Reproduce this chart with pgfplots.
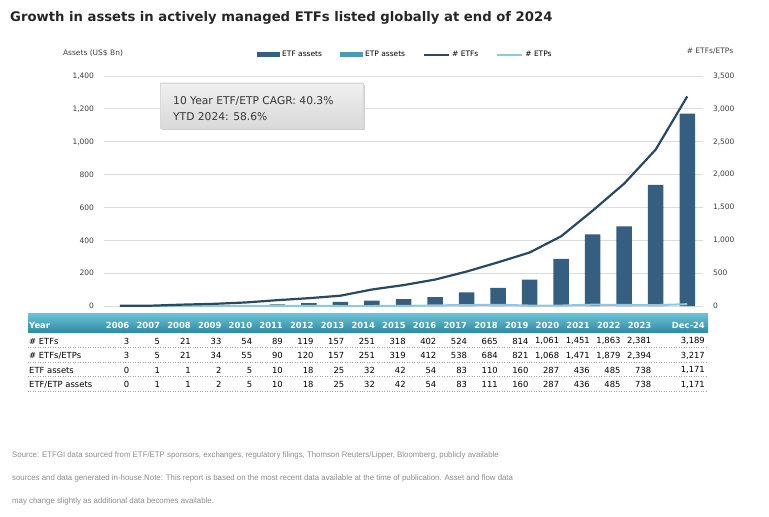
\documentclass[border=0pt]{standalone}
\usepackage{graphicx}
\usepackage{pgfplots}
\pgfplotsset{compat=1.18}
\usepackage{pgfplotstable}
\usepackage{fontspec}
\setmainfont{DejaVu Sans}
\newfontfamily\footfont{Liberation Sans}

\definecolor{etfbar}{HTML}{365E80}
\definecolor{etpbar}{HTML}{4A9BB5}
\definecolor{etfline}{HTML}{2B4861}
\definecolor{etpline}{HTML}{8DC9DC}
\definecolor{gridgray}{HTML}{DCDCDC}
\definecolor{hdrtop}{HTML}{6EC3D6}
\definecolor{hdrbot}{HTML}{2F8CA6}
\definecolor{ticktext}{HTML}{404040}

\pgfkeys{/pgf/number format/.cd,fixed,1000 sep={,},assume math mode=true}

% year, # ETFs, # ETFs/ETPs, ETF assets, ETF/ETP assets (US$ Bn); xr = right edge of table column
\pgfplotstableread{
x  year   etfs etfsetps etfa etfetpa xr
0  2006   3    3        0    0       129.5
1  2007   5    5        1    1       160.2
2  2008   21   21       1    1       190.9
3  2009   33   34       2    2       221.6
4  2010   54   55       5    5       252.3
5  2011   89   90       10   10      283
6  2012   119  120      18   18      313.7
7  2013   157  157      25   25      344.4
8  2014   251  251      32   32      375.1
9  2015   318  319      42   42      405.8
10 2016   402  412      54   54      436.5
11 2017   524  538      83   83      467.2
12 2018   665  684      110  111     497.9
13 2019   814  821      160  160     528.6
14 2020   1061 1068     287  287     559.3
15 2021   1451 1471     436  436     590
16 2022   1863 1879     485  485     620.7
17 2023   2381 2394     738  738     651.4
18 Dec-24 3189 3217     1171 1171    705
}\datatable

\newcommand\smallfont{\fontsize{7.5bp}{9bp}\selectfont}
\newcommand\tabfont{\fontsize{8.4bp}{10bp}\selectfont}
\newcommand\note[1]{\scalebox{0.98}[1]{#1}}

\begin{document}
\begin{tikzpicture}
\begin{scope}[x=1bp,y=1bp]
\path[use as bounding box] (0,0) rectangle (769,-517);
\end{scope}

\begin{axis}[
    at={(104bp,-306bp)}, anchor=south west,
    scale only axis, width=599bp, height=230bp,
    xmin=-0.5, xmax=18.5, ymin=0, ymax=1400,
    ybar stacked, bar width=15.5bp,
    axis line style={draw=none},
    xtick=\empty,
    ytick={0,200,...,1400},
    ymajorgrids, grid style={gridgray, line width=0.8bp},
    major tick length=0pt,
    scaled y ticks=false,
    yticklabel style={font=\smallfont, color=ticktext, xshift=-6.5bp},
    legend columns=4,
    legend style={draw=none, fill=none, inner sep=0pt,
        at={(0.2554,1.092)}, anchor=west, font=\smallfont,
        /tikz/every even column/.append style={column sep=16bp}},
]
\addplot[fill=etfbar, draw=none,
    legend image code/.code={\fill[etfbar] (0bp,-2.5bp) rectangle (23bp,2.5bp);}]
    table[x=x, y=etfa] {\datatable};
\addlegendentry{ETF assets}
\addplot[fill=etpbar, draw=none,
    legend image code/.code={\fill[etpbar] (0bp,-2.5bp) rectangle (23bp,2.5bp);}]
    table[x=x, y expr=\thisrow{etfetpa}-\thisrow{etfa}] {\datatable};
\addlegendentry{ETP assets}
\addlegendimage{legend image code/.code={\draw[etfline, line width=2bp] (0bp,0bp) -- (25bp,0bp);}}
\addlegendentry{\# ETFs}
\addlegendimage{legend image code/.code={\draw[etpline, line width=2bp] (0bp,0bp) -- (25bp,0bp);}}
\addlegendentry{\# ETPs}
\end{axis}

\begin{axis}[
    at={(104bp,-306bp)}, anchor=south west,
    scale only axis, width=599bp, height=230bp,
    xmin=-0.5, xmax=18.5, ymin=0, ymax=3500,
    axis x line=none,
    axis y line*=right,
    axis line style={draw=none},
    xtick=\empty,
    ytick={0,500,...,3500},
    major tick length=0pt,
    scaled y ticks=false,
    yticklabel style={font=\smallfont, color=ticktext, anchor=west, xshift=6.5bp},
]
\addplot[etpline, line width=2bp, no marks]
    table[x=x, y expr=\thisrow{etfsetps}-\thisrow{etfs}] {\datatable};
\addplot[etfline, line width=2.2bp, no marks]
    table[x=x, y=etfs] {\datatable};
\end{axis}

\begin{scope}[x=1bp,y=1bp]
% title
\node[anchor=west, inner sep=0, font=\fontsize{13.2bp}{15bp}\selectfont\bfseries, text=black!85]
    at (10,-17.5) {Growth in assets in actively managed ETFs listed globally at end of 2024};
% axis titles
\node[inner sep=0, font=\smallfont, text=ticktext] at (93,-53) {Assets (US\$ Bn)};
\node[inner sep=0, font=\smallfont, text=ticktext] at (710,-51) {\# ETFs/ETPs};
% annotation box
\fill[black!18] (162,-85) rectangle (365,-130);
\shade[top color=white!94!black, bottom color=white!85!black, draw=black!15] (160,-83) rectangle (363,-128);
\node[anchor=west, inner sep=0, font=\fontsize{10.7bp}{12bp}\selectfont, text=black!78] at (173,-101) {10 Year ETF/ETP CAGR: 40.3\%};
\node[anchor=west, inner sep=0, font=\fontsize{10.7bp}{12bp}\selectfont, text=black!78] at (173,-117) {YTD 2024: 58.6\%};
% data table
\shade[top color=hdrtop, bottom color=hdrbot] (28,-313) rectangle (708,-332);
\node[anchor=west, inner sep=0, font=\tabfont\bfseries, text=white] at (29,-325.5) {Year};
\node[anchor=west, inner sep=0, font=\tabfont] at (29,-341) {\# ETFs};
\node[anchor=west, inner sep=0, font=\tabfont] at (29,-355.5) {\# ETFs/ETPs};
\node[anchor=west, inner sep=0, font=\tabfont] at (29,-370) {ETF assets};
\node[anchor=west, inner sep=0, font=\tabfont] at (29,-384.5) {ETF/ETP assets};
\foreach \yy in {347.5,362,376.5,391}
    \draw[black!35, dotted, line width=0.5bp] (28,-\yy) -- (708,-\yy);
\foreach \r in {0,...,18}{
    \pgfplotstablegetelem{\r}{xr}\of\datatable \let\xr\pgfplotsretval
    \pgfplotstablegetelem{\r}{year}\of\datatable
    \node[anchor=east, inner sep=0, font=\tabfont\bfseries, text=white] at (\xr,-325.5) {\pgfplotsretval};
    \pgfplotstablegetelem{\r}{etfs}\of\datatable
    \node[anchor=east, inner sep=0, font=\tabfont] at (\xr,-341) {\pgfmathprintnumber{\pgfplotsretval}};
    \pgfplotstablegetelem{\r}{etfsetps}\of\datatable
    \node[anchor=east, inner sep=0, font=\tabfont] at (\xr,-355.5) {\pgfmathprintnumber{\pgfplotsretval}};
    \pgfplotstablegetelem{\r}{etfa}\of\datatable
    \node[anchor=east, inner sep=0, font=\tabfont] at (\xr,-370) {\pgfmathprintnumber{\pgfplotsretval}};
    \pgfplotstablegetelem{\r}{etfetpa}\of\datatable
    \node[anchor=east, inner sep=0, font=\tabfont] at (\xr,-384.5) {\pgfmathprintnumber{\pgfplotsretval}};
}
% source note
\begin{scope}[every node/.style={anchor=west, inner sep=0, text=black!45,
        font=\footfont\fontsize{8bp}{9bp}\selectfont}]
\node at (12,-455) {\note{Source: ETFGI data sourced from ETF/ETP sponsors, exchanges, regulatory filings, Thomson Reuters/Lipper, Bloomberg, publicly available}};
\node at (12,-478) {\note{sources and data generated in-house.Note: This report is based on the most recent data available at the time of publication. Asset and flow data}};
\node at (12,-501) {\note{may change slightly as additional data becomes available.}};
\end{scope}
\end{scope}
\end{tikzpicture}
\end{document}
